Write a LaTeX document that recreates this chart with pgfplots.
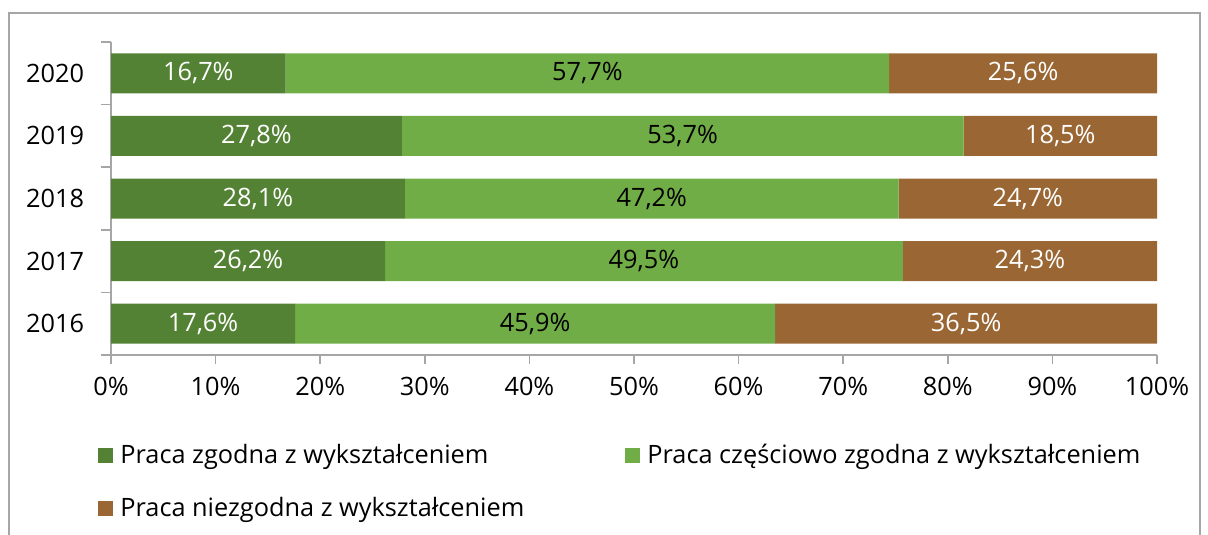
\documentclass[border=0pt]{standalone}
\usepackage{pgfplots}
\pgfplotsset{compat=1.18}
\usepackage{fontspec}
\setmainfont{Open Sans}
\definecolor{dgreen}{HTML}{548235}
\definecolor{lgreen}{HTML}{70AD47}
\definecolor{brownc}{HTML}{9A6634}
\definecolor{axgray}{HTML}{A6A6A6}
\newcommand{\chartfont}{\fontsize{12.7}{15.2}\selectfont}
\begin{document}
\begin{tikzpicture}[x=1bp,y=1bp]
\useasboundingbox (0,0) rectangle (604,267);
% ramka wykresu
\draw[axgray, line width=0.9bp] (4.5,-5) -- (4.5,260.5) -- (600,260.5) -- (600,-5);
\begin{axis}[
  at={(55.5bp,89.5bp)}, anchor=south west,
  scale only axis, width=523bp, height=156.5bp,
  xbar stacked, bar width=20bp,
  xmin=0, xmax=100, ymin=-0.5, ymax=4.5,
  xtick={0,10,...,100},
  xticklabels={0\%,10\%,20\%,30\%,40\%,50\%,60\%,70\%,80\%,90\%,100\%},
  ytick={0,...,4}, yticklabels={2016,2017,2018,2019,2020},
  minor ytick={-0.5,0.5,...,4.5},
  axis x line*=bottom, axis y line*=left,
  axis line style={axgray, line width=0.8bp},
  tick align=outside,
  major tick length=4.5bp, minor tick length=5bp,
  major y tick style={draw=none},
  minor y tick style={axgray, line width=0.8bp},
  major x tick style={axgray, line width=0.8bp},
  tick label style={font=\chartfont},
  xticklabel style={yshift=-3bp},
  yticklabel style={xshift=-5.5bp},
  point meta=explicit,
  nodes near coords={\pgfmathprintnumber[fixed,fixed zerofill,precision=1,use comma,assume math mode=true]{\pgfplotspointmeta}\%},
  every node near coord/.append style={font=\chartfont, anchor=center},
  legend columns=2,
  legend style={draw=none, at={(-0.0124,-0.27)}, anchor=north west, font=\chartfont,
    inner sep=0pt, row sep=11.5bp, /tikz/every even column/.append style={column sep=0bp}},
  legend cell align=left,
  legend image code/.code={\fill[#1] (0bp,-3.75bp) rectangle (7.5bp,3.75bp); \path (0bp,0bp) (9bp,0bp);},
]
\addplot[fill=dgreen, draw=none, every node near coord/.append style={text=white}] coordinates {
  (17.6,0) [17.6] (26.2,1) [26.2] (28.1,2) [28.1] (27.8,3) [27.8] (16.7,4) [16.7]};
\addplot[fill=lgreen, draw=none, every node near coord/.append style={text=black}] coordinates {
  (45.9,0) [45.9] (49.5,1) [49.5] (47.2,2) [47.2] (53.7,3) [53.7] (57.7,4) [57.7]};
\addplot[fill=brownc, draw=none, every node near coord/.append style={text=white}] coordinates {
  (36.5,0) [36.5] (24.3,1) [24.3] (24.7,2) [24.7] (18.5,3) [18.5] (25.6,4) [25.6]};
\addlegendentry{\makebox[250.5bp][l]{Praca zgodna z wykształceniem}}
\addlegendentry{Praca częściowo zgodna z wykształceniem}
\addlegendentry{Praca niezgodna z wykształceniem}
\end{axis}
\end{tikzpicture}
\end{document}
